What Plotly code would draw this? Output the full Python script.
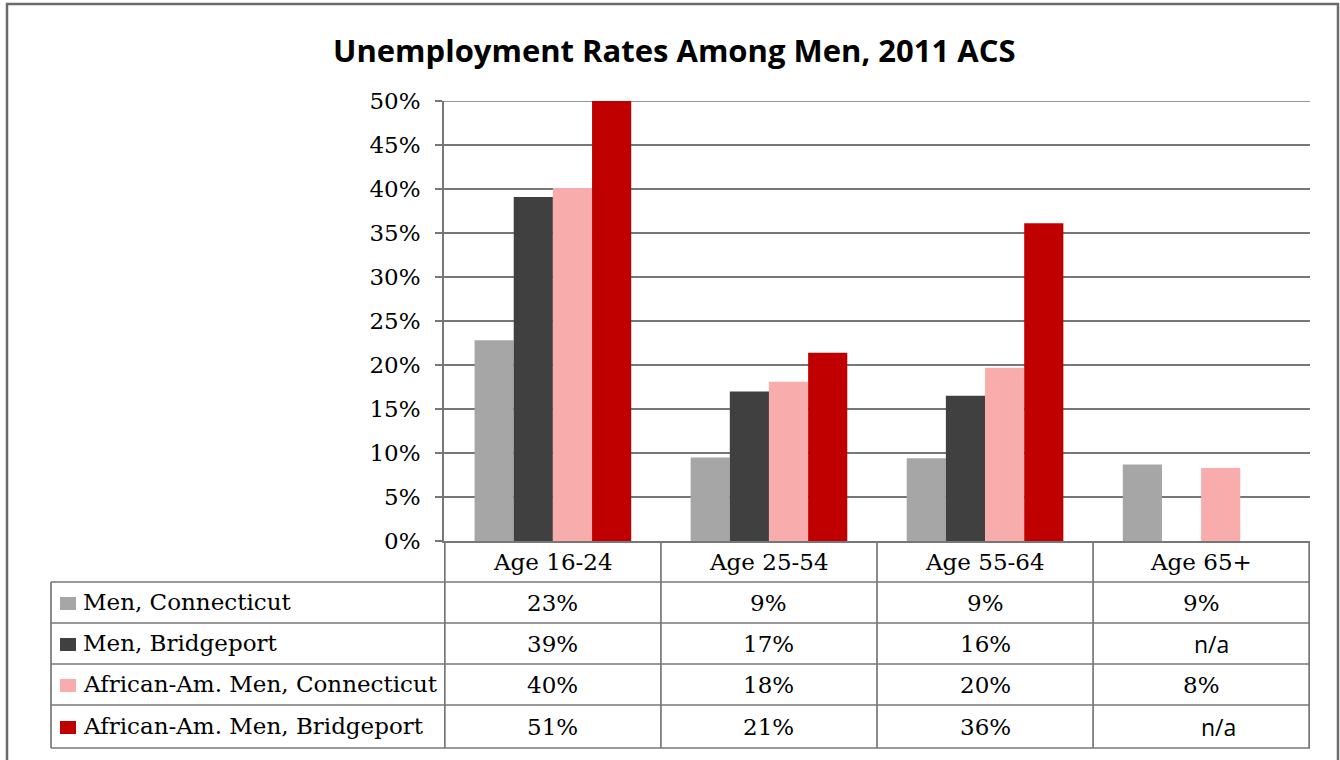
import plotly.graph_objects as go

# ---------------- data ----------------
categories = ["Age 16-24", "Age 25-54", "Age 55-64", "Age 65+"]
series_names = ["Men, Connecticut", "Men, Bridgeport",
                "African-Am. Men, Connecticut", "African-Am. Men, Bridgeport"]
men_ct = [22.8, 9.5, 9.4, 8.7]
men_bpt = [39.1, 17.0, 16.5, None]
aa_ct = [40.1, 18.1, 19.7, 8.3]
aa_bpt = [51.0, 21.4, 36.1, None]

men_ct_labels = ["23%", "9%", "9%", "9%"]
men_bpt_labels = ["39%", "17%", "16%", "n/a"]
aa_ct_labels = ["40%", "18%", "20%", "8%"]
aa_bpt_labels = ["51%", "21%", "36%", "n/a"]

y_ticks = [0, 5, 10, 15, 20, 25, 30, 35, 40, 45, 50]
title_text = "Unemployment Rates Among Men, 2011 ACS"

# ---------------- styling ----------------
W, H = 1340, 760
colors = ["#A6A6A6", "#404040", "#F9ACAC", "#C00000"]
line_col = "#777777"
serif = "DejaVu Serif"
fs = 23
na_shift = [0, 10, 0, 17]  # per-row horizontal nudge of "n/a" text

def fx(px):
    return px / W

def fy(py):
    return 1 - py / H

plot_l, plot_r, plot_t, plot_b = 444, 1310, 101, 541
row_lines = [582, 623, 664, 705, 748]
row_centers = [602.5, 643.5, 684.5, 726.5]
header_center = 562
table_left = 51

fig = go.Figure()
all_values = [men_ct, men_bpt, aa_ct, aa_bpt]
all_labels = [men_ct_labels, men_bpt_labels, aa_ct_labels, aa_bpt_labels]
for name, vals, c in zip(series_names, all_values, colors):
    fig.add_trace(go.Bar(x=categories, y=vals, name=name,
                         marker=dict(color=c, line=dict(width=0)),
                         showlegend=False, hoverinfo="skip"))

shapes = []
annotations = []

# title
annotations.append(dict(text="<b>" + title_text + "</b>", x=fx(674), y=fy(50),
                        xref="paper", yref="paper", showarrow=False,
                        xanchor="center", yanchor="middle",
                        font=dict(family="Open Sans", size=31, color="#000000")))

# outer border
shapes.append(dict(type="rect", xref="paper", yref="paper",
                   x0=fx(7), x1=fx(1338), y0=fy(780), y1=fy(4),
                   line=dict(color="#6b6b6b", width=2.5), fillcolor="rgba(0,0,0,0)",
                   layer="above"))

# top gridline safety
shapes.append(dict(type="line", xref="paper", yref="y", x0=fx(437), x1=fx(plot_r),
                   y0=max(y_ticks), y1=max(y_ticks), line=dict(color=line_col, width=1.7),
                   layer="below"))

# table vertical lines using category axis boundaries
bounds = [i - 0.5 for i in range(len(categories) + 1)]
for b in bounds:
    shapes.append(dict(type="line", xref="x", yref="paper", x0=b, x1=b,
                       y0=fy(row_lines[-1]), y1=fy(plot_b),
                       line=dict(color=line_col, width=1.7), layer="above"))
# left border of the legend column
shapes.append(dict(type="line", xref="paper", yref="paper", x0=fx(table_left), x1=fx(table_left),
                   y0=fy(row_lines[-1]), y1=fy(row_lines[0]),
                   line=dict(color=line_col, width=1.7), layer="above"))
# horizontal lines
for r in row_lines:
    shapes.append(dict(type="line", xref="paper", yref="paper", x0=fx(table_left), x1=fx(plot_r),
                       y0=fy(r), y1=fy(r), line=dict(color=line_col, width=1.7), layer="above"))

# header labels
for cat in categories:
    annotations.append(dict(text=cat, x=cat, y=fy(header_center), xref="x", yref="paper",
                            showarrow=False, xanchor="center", yanchor="middle",
                            font=dict(family=serif, size=fs, color="#000000")))

# rows
for i, (name, labels, c) in enumerate(zip(series_names, all_labels, colors)):
    yc = row_centers[i]
    shapes.append(dict(type="rect", xref="paper", yref="paper",
                       x0=fx(60), x1=fx(76), y0=fy(yc + 7.5), y1=fy(yc - 5.5),
                       fillcolor=c, line=dict(width=0), layer="above"))
    annotations.append(dict(text=name, x=fx(81), y=fy(yc - 1), xref="paper", yref="paper",
                            showarrow=False, xanchor="left", yanchor="middle",
                            font=dict(family=serif, size=fs, color="#000000")))
    for cat, lab in zip(categories, labels):
        is_na = lab == "n/a"
        annotations.append(dict(text=lab, x=cat, y=fy(yc), xref="x", yref="paper",
                                showarrow=False, xanchor="center", yanchor="middle",
                                xshift=na_shift[i] if is_na else 0,
                                font=dict(family="Open Sans" if is_na else serif,
                                          size=fs, color="#000000")))

fig.update_layout(
    width=W, height=H, autosize=False,
    margin=dict(l=0, r=0, t=0, b=0, pad=0, autoexpand=False),
    paper_bgcolor="white", plot_bgcolor="white",
    barmode="group", bargap=0.275, bargroupgap=0,
    shapes=shapes, annotations=annotations,
    xaxis=dict(type="category", domain=[fx(plot_l), fx(plot_r)], automargin=False,
               showticklabels=False, showgrid=False, zeroline=False,
               showline=True, linecolor=line_col, linewidth=1.7, ticks=""),
    yaxis=dict(domain=[fy(plot_b), fy(plot_t)], range=[0, 50], automargin=False,
               tickvals=y_ticks, ticktext=[f"{v}%" for v in y_ticks],
               showgrid=True, gridcolor=line_col, gridwidth=1.7,
               zeroline=False, showline=True, linecolor=line_col, linewidth=1.7,
               ticks="outside", ticklen=7, tickcolor=line_col, tickwidth=1.7,
               ticklabelstandoff=10,
               tickfont=dict(family=serif, size=fs, color="#000000")),
)

fig.write_html("out.html", config={"displayModeBar": False},
               post_script="document.body.style.margin='0';document.body.style.overflow='hidden';")
